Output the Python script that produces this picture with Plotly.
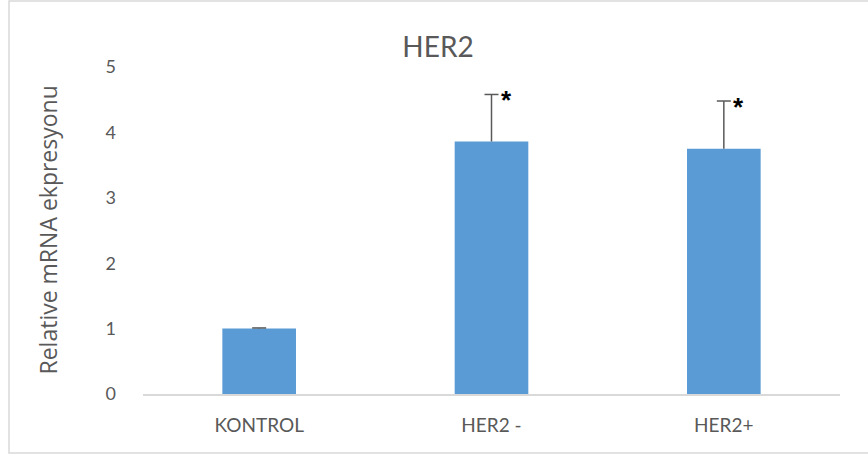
import plotly.graph_objects as go

# Relative HER2 mRNA expression per group
groups = ["KONTROL", "HER2 -", "HER2+"]
means = [1.00, 3.86, 3.75]
errors = [0.01, 0.72, 0.73]
significance = ["", "*", "*"]
y_ticks = [0, 1, 2, 3, 4, 5]

W, H = 868, 457
L, R, T, B = 143, 28, 67, 63
plot_w, plot_h = W - L - R, H - T - B

text_grey = "#595959"
bar_blue = "#5b9bd5"
font_family = "Lato, Calibri, Carlito, sans-serif"

fig = go.Figure()
fig.add_trace(go.Bar(
    x=groups,
    y=means,
    marker=dict(color=bar_blue, line=dict(width=0)),
    showlegend=False,
    hoverinfo="skip",
))

# upper-only error bars: a stem from the bar top plus a cap at mean + error
stem_x, stem_y = [], []
for g, m, e in zip(groups, means, errors):
    stem_x += [g, g, None]
    stem_y += [m, m + e, None]
fig.add_trace(go.Scatter(
    x=stem_x, y=stem_y, mode="lines",
    line=dict(color=text_grey, width=1.5),
    showlegend=False, hoverinfo="skip",
))
fig.add_trace(go.Scatter(
    x=groups, y=[m + e for m, e in zip(means, errors)], mode="markers",
    marker=dict(symbol="line-ew", size=10, line=dict(color=text_grey, width=1.5)),
    showlegend=False, hoverinfo="skip",
))

# significance markers next to the error bar caps
for g, m, e, s in zip(groups, means, errors, significance):
    if s:
        fig.add_annotation(
            x=g, y=m + e, text="<b>" + s + "</b>", showarrow=False,
            xanchor="center", yanchor="middle",
            xshift=15, yshift=-6,
            font=dict(family="Liberation Sans, Arial, sans-serif", size=26, color="#000000"),
        )

# y-axis title
fig.add_annotation(
    x=(47 - L) / plot_w, y=0.5, xref="paper", yref="paper",
    text="Relative mRNA ekpresyonu", showarrow=False, textangle=-90,
    xanchor="center", yanchor="middle",
    font=dict(family="Open Sans, sans-serif", size=23, color=text_grey),
)

# outer chart frame
fig.add_shape(
    type="rect", xref="paper", yref="paper",
    x0=(9 - L) / plot_w, x1=(W + 5 - L) / plot_w,
    y0=(H - B - 453) / plot_h, y1=(H - B - 1) / plot_h,
    line=dict(color="#d9d9d9", width=1.5), fillcolor="rgba(0,0,0,0)",
    layer="below",
)

fig.update_layout(
    width=W, height=H,
    margin=dict(l=L, r=R, t=T, b=B, pad=0),
    paper_bgcolor="white", plot_bgcolor="white",
    bargap=0.683,
    title=dict(
        text="HER2", x=438 / W, xref="container", xanchor="center",
        y=1 - 47 / H, yref="container", yanchor="middle",
        font=dict(family=font_family, size=28, color=text_grey),
    ),
    xaxis=dict(
        showline=True, linecolor="#d9d9d9", linewidth=1.5,
        showgrid=False, zeroline=False, ticks="",
        tickfont=dict(family=font_family, size=19, color=text_grey),
        ticklabelstandoff=13,
    ),
    yaxis=dict(
        range=[0, 5], tickvals=y_ticks, ticktext=[str(v) for v in y_ticks],
        showline=False, showgrid=False, zeroline=False, ticks="",
        tickfont=dict(family=font_family, size=18, color=text_grey),
        ticklabelstandoff=26,
    ),
)

fig.write_html("out.html")
